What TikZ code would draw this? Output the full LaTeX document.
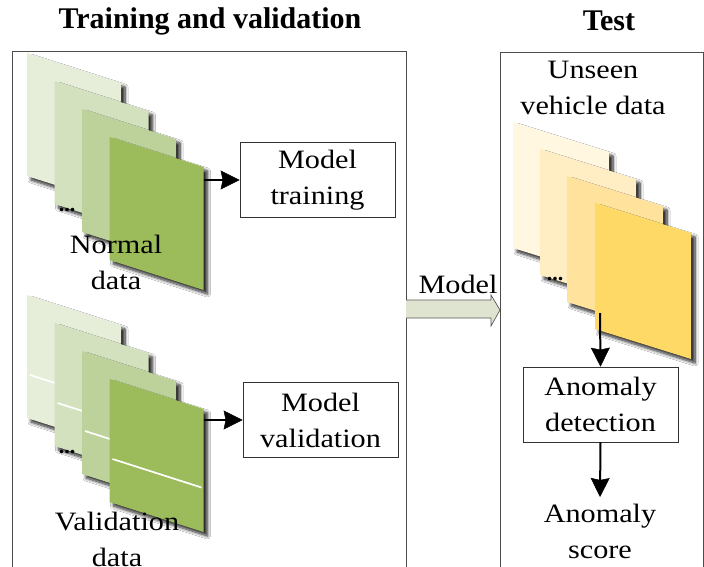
\documentclass[tikz,border=0pt]{standalone}
\usepackage{fontspec}
\setmainfont{Liberation Serif}
\newfontfamily\widefont[FakeStretch=1.14]{Liberation Serif}
\usetikzlibrary{arrows.meta,shadows.blur}
\definecolor{gA}{HTML}{E6EED9}
\definecolor{gB}{HTML}{D3E1BF}
\definecolor{gC}{HTML}{BCD29A}
\definecolor{gD}{HTML}{9CBC5C}
\definecolor{yA}{HTML}{FFF7DF}
\definecolor{yB}{HTML}{FFEEC4}
\definecolor{yC}{HTML}{FFE39C}
\definecolor{yD}{HTML}{FFD966}
\definecolor{fat}{HTML}{DEE4CF}
\tikzset{
  sheetshadow/.style={blur shadow={shadow xshift=4pt, shadow yshift=-4pt,
      shadow opacity=85, shadow blur radius=3pt, shadow blur steps=8}},
  txt/.style={font=\widefont\fontsize{26.5}{36}\selectfont, align=center, inner sep=0pt},
  ttl/.style={font=\fontsize{30}{34}\selectfont\bfseries, inner sep=0pt},
  procbox/.style={draw=black!80, line width=0.7pt, fill=white, txt,
      minimum width=155pt, minimum height=75pt},
  panel/.style={draw=black!70, line width=0.7pt},
  flow/.style={draw=black, line width=2pt,
      -{Stealth[length=19pt,width=19pt,inset=2pt,fill=black,line width=0.5pt]}},
  dots/.style={font=\fontsize{22}{22}\selectfont\bfseries, inner sep=0pt}
}
% one data sheet: top-left corner (#1,#2), fill #3
\newcommand\datasheet[3]{%
  \fill[#3, sheetshadow]
    (#1,#2) -- ++(94,30) -- ++(0,123) -- ++(-94,-30) -- cycle;}
% a data sheet crossed by a white stripe
\newcommand\stripesheet[3]{%
  \datasheet{#1}{#2}{#3}%
  \draw[white, line width=1.7pt] (#1+3,#2+80) -- (#1+92,#2+108.5);}
% a slightly larger sheet for the test data
\newcommand\yellowsheet[3]{%
  \fill[#3, sheetshadow]
    (#1,#2) -- ++(96,30) -- ++(0,126) -- ++(-96,-30) -- cycle;}
\begin{document}
\begin{tikzpicture}[x=1pt,y=-1pt]
\useasboundingbox (0,0) rectangle (704,566);
\fill[white] (0,0) rectangle (704,566);

% panels
\draw[panel] (12,600) -- (12,51) -- (406,51) -- (406,600);
\draw[panel] (500,600) -- (500,52) -- (703,52) -- (703,600);
\node[ttl] (ttrain) at (210,21) {Training and validation};
\node[ttl] (ttest) at (609,21) {Test};

% normal data stack
\datasheet{27}{53}{gA}
\datasheet{54.5}{81}{gB}
\node[dots] (ndots) at (67,210) {...};
\datasheet{82}{109}{gC}
\datasheet{109.5}{137}{gD}
\node[txt] (nlab) at (116,262) {Normal\\data};
\coordinate (nout) at (203.5,180);

% validation data stack
\stripesheet{27}{295}{gA}
\stripesheet{54.5}{323}{gB}
\node[dots] (vdots) at (67,452) {...};
\stripesheet{82}{351}{gC}
\stripesheet{109.5}{379}{gD}
\node[txt] (vlab) at (117,539) {Validation\\data};
\coordinate (vout) at (203.5,420);

% processing boxes
\node[procbox] (train) at (317.5,180) {Model\\training};
\node[procbox] (valid) at (320.5,420) {Model\\validation};
\draw[flow] (nout) -- (train.west);
\draw[flow] (vout) -- (valid.west);

% model hand-over arrow
\node[txt] (mlab) at (458,284) {Model};
\coordinate (mtip) at (500,310);
\filldraw[fill=fat, draw=black!65, line width=0.7pt]
  (406,300) -- (491,300) -- (491,295) -- (mtip) -- (491,326) -- (491,318) -- (406,318);

% unseen data stack
\node[txt] (ulab) at (593,88) {Unseen\\vehicle data};
\yellowsheet{513}{122}{yA}
\yellowsheet{540}{149}{yB}
\node[dots] (udots) at (555,279) {...};
\yellowsheet{567}{176}{yC}
\yellowsheet{595}{203}{yD}
\coordinate (uout) at (600,313);

\node[procbox] (detect) at (600.5,404.5) {Anomaly\\detection};
\node[txt] (score) at (600,531) {Anomaly\\score};
\draw[flow] (uout) -- (detect.north);
\draw[flow] (detect.south) -- (600,497);
\end{tikzpicture}
\end{document}
